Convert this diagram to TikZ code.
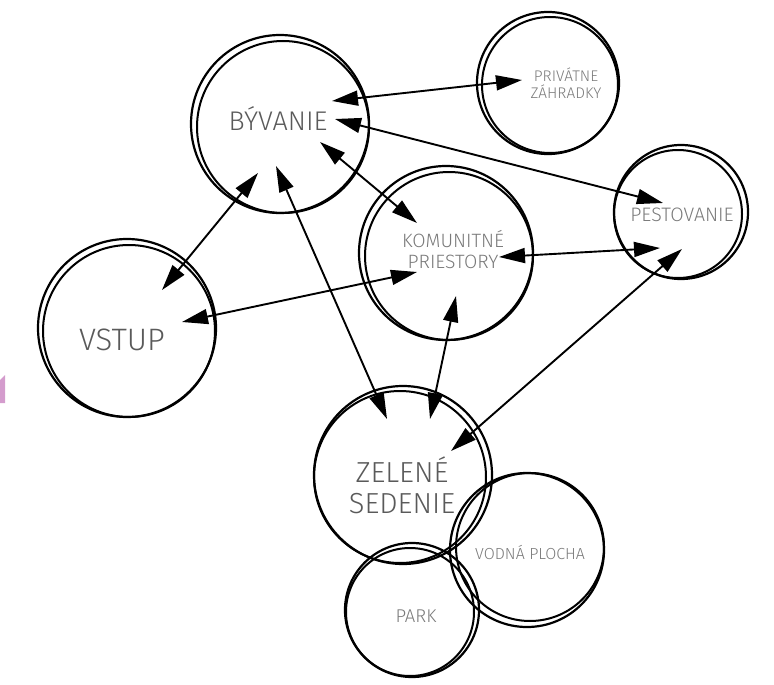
\documentclass[tikz,border=0pt]{standalone}
\usepackage{fontspec}
\setmainfont{Fira Sans}[UprightFont={* Light}]
\usetikzlibrary{arrows.meta}
\definecolor{txtdark}{HTML}{5A5A5A}
\definecolor{txtlight}{HTML}{7A7A7A}
\definecolor{pinkish}{HTML}{D49CCD}
\tikzset{
  bub/.style={circle, draw=black, line width=2.2pt, inner sep=0pt},
  bubline/.style={draw=black, line width=2pt},
  lbl/.style={text=txtdark, align=center, inner sep=0pt},
  slbl/.style={text=txtlight, align=center, inner sep=0pt},
  link/.style={line width=1.9pt, {Triangle[length=26pt,width=15pt]}-{Triangle[length=26pt,width=15pt]}},
}
\begin{document}
\begin{tikzpicture}[x=1pt,y=-1pt]
\useasboundingbox (0,0) rectangle (774,685);
% pink fragment at left edge
\fill[pinkish] (0,380) -- (5,375) -- (5,403) -- (0,403) -- cycle;
% circles
\node[bub, minimum size=178pt] (byv) at (280,124) {};
\draw[bubline] (283,127) circle (86);
\node[bub, minimum size=142pt] (priv) at (548,83) {};
\draw[bubline] (550,85) circle (68);
\node[bub, minimum size=134pt] (pest) at (681,212) {};
\draw[bubline] (678,214) circle (64);
\node[bub, minimum size=174pt] (kom) at (446,253) {};
\draw[bubline] (449,256) circle (84);
\node[bub, minimum size=178pt] (vst) at (127,328) {};
\draw[bubline] (129,331) circle (86);
\node[bub, minimum size=178pt] (zel) at (403,475) {};
\draw[bubline] (400,477) circle (86);
\node[bub, minimum size=154pt] (vod) at (527,550) {};
\draw[bubline] (530,547) circle (74);
\node[bub, minimum size=134pt] (park) at (412,610) {};
\draw[bubline] (410,612) circle (64);
% labels
\node[lbl, font=\fontsize{27}{30}\selectfont] (byvT) at (278,119) {BÝVANIE};
\node[slbl, font=\fontsize{15.4}{17}\selectfont] (privT) at (566,83) {PRIVÁTNE\\ZÁHRADKY};
\node[slbl, font=\fontsize{19.5}{22}\selectfont] (pestT) at (682,215) {PESTOVANIE};
\node[slbl, font=\fontsize{19.3}{21}\selectfont] (komT) at (453,250) {KOMUNITNÉ\\PRIESTORY};
\node[lbl, font=\fontsize{31}{34}\selectfont] (vstT) at (122,340) {VSTUP};
\node[lbl, font=\fontsize{29}{31}\selectfont] (zelT) at (402,485) {ZELENÉ\\SEDENIE};
\node[slbl, font=\fontsize{16}{19}\selectfont] (vodT) at (530,552) {VODNÁ PLOCHA};
\node[slbl, font=\fontsize{18.5}{20}\selectfont] (parkT) at (416,616) {PARK};
% arrow end points
\coordinate (a1s) at (332,101); \coordinate (a1e) at (522,80);
\coordinate (a2s) at (335,119); \coordinate (a2e) at (663,203);
\coordinate (a3s) at (320,142); \coordinate (a3e) at (417,223);
\coordinate (a4s) at (258,173); \coordinate (a4e) at (162,290);
\coordinate (a5s) at (276,166); \coordinate (a5e) at (387,419);
\coordinate (a6s) at (456,296); \coordinate (a6e) at (430,419);
\coordinate (a7s) at (417,272); \coordinate (a7e) at (182,322);
\coordinate (a8s) at (499,257); \coordinate (a8e) at (660,248);
\coordinate (a9s) at (682,249); \coordinate (a9e) at (451,451);
\draw[link] (a1s) -- (a1e);
\draw[link] (a2s) -- (a2e);
\draw[link] (a3s) -- (a3e);
\draw[link] (a4s) -- (a4e);
\draw[link] (a5s) -- (a5e);
\draw[link] (a6s) -- (a6e);
\draw[link] (a7s) -- (a7e);
\draw[link] (a8s) -- (a8e);
\draw[link] (a9s) -- (a9e);
\end{tikzpicture}
\end{document}
